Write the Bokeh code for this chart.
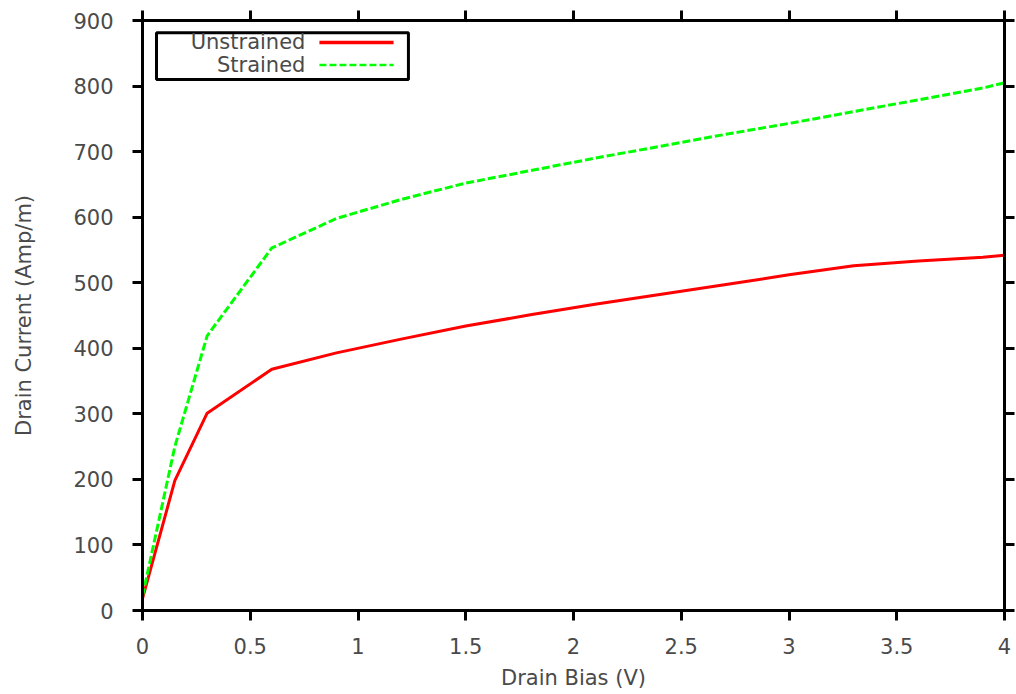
from bokeh.plotting import figure
from bokeh.models import (Range1d, LinearAxis, FixedTicker, BoxAnnotation, Label, Arrow,
                          CustomLabelingPolicy)
from bokeh.embed import file_html
from bokeh.resources import INLINE

# ---- data ----
drain_bias = [0.0, 0.15, 0.3, 0.6, 0.9, 1.2, 1.5, 1.8, 2.1, 2.4, 2.7, 3.0, 3.3, 3.6, 3.9, 4.0]
unstrained = [18, 198, 301, 368, 393, 414, 434, 451, 467, 482, 497, 512, 526, 533, 539, 542]
strained = [22, 250, 419, 553, 598, 627, 652, 671, 690, 708, 726, 743, 761, 779, 797, 805]

x_ticks = [0, 0.5, 1, 1.5, 2, 2.5, 3, 3.5, 4]
x_tick_labels = ["0", "0.5", "1", "1.5", "2", "2.5", "3", "3.5", "4"]
y_ticks = [0, 100, 200, 300, 400, 500, 600, 700, 800, 900]
y_tick_labels = ["0", "100", "200", "300", "400", "500", "600", "700", "800", "900"]

series_names = ["Unstrained", "Strained"]

FONT = "DejaVu Sans"
FSIZE = "21px"
TCOL = "#4a4a4a"

p = figure(frame_width=862, frame_height=590,
           min_border_left=142, min_border_top=20, min_border_right=12, min_border_bottom=84,
           x_range=Range1d(0, 4), y_range=Range1d(0, 900),
           output_backend="svg", toolbar_location=None, tools="")
p.xgrid.visible = False
p.ygrid.visible = False
p.outline_line_color = "black"
p.outline_line_width = 3
p.background_fill_color = "white"
p.border_fill_color = "white"

no_labels = CustomLabelingPolicy(code="""
const out = indices.clone();
for (let i = 0; i < indices.size; i++) { out.set(i, false); }
return out;
""")


def style_axis(ax, ticks, labels, show_labels=True):
    ax.ticker = FixedTicker(ticks=ticks)
    ax.major_label_overrides = dict(zip(ticks, labels))
    ax.axis_line_width = 3
    ax.axis_line_color = "black"
    ax.major_tick_line_width = 3
    ax.major_tick_line_color = "black"
    ax.major_tick_in = 0
    ax.major_tick_out = 10
    ax.minor_tick_line_color = None
    ax.major_label_text_font = FONT
    ax.major_label_text_color = TCOL
    ax.axis_label_text_font = FONT
    ax.axis_label_text_color = TCOL
    ax.axis_label_text_font_style = "normal"
    ax.axis_label_text_font_size = FSIZE
    if show_labels:
        ax.major_label_text_font_size = FSIZE
    else:
        ax.major_label_text_font_size = "1px"
        ax.major_label_standoff = 0
        ax.major_label_policy = no_labels


xa = p.xaxis[0]
style_axis(xa, x_ticks, x_tick_labels)
xa.axis_label = "Drain Bias (V)"
xa.major_label_standoff = 17
xa.axis_label_standoff = 9

ya = p.yaxis[0]
style_axis(ya, y_ticks, y_tick_labels)
ya.axis_label = "Drain Current (Amp/m)"
ya.major_label_standoff = 19
ya.axis_label_standoff = 34

top_axis = LinearAxis()
style_axis(top_axis, x_ticks, x_tick_labels, show_labels=False)
p.add_layout(top_axis, "above")
right_axis = LinearAxis()
style_axis(right_axis, y_ticks, y_tick_labels, show_labels=False)
p.add_layout(right_axis, "right")

# ---- data lines ----
p.line(drain_bias, unstrained, line_color="#ff0000", line_width=3)
p.line(drain_bias, strained, line_color="#00ff00", line_width=3, line_dash="8 3")

# ---- legend (gnuplot style: label right-aligned, sample on the right) ----
p.add_layout(BoxAnnotation(left=0.065, right=1.234, top=881.5, bottom=810,
                           fill_color=None, fill_alpha=0, line_color="black",
                           line_alpha=1.0, line_width=3))
rows_y = [866.5, 832]
colors = ["#ff0000", "#00ff00"]
dashes = ["solid", "7 3"]
widths = [3.5, 2.5]
for name, yy, c, d, w in zip(series_names, rows_y, colors, dashes, widths):
    p.add_layout(Label(x=0.756, y=yy, text=name, text_align="right", text_baseline="middle",
                       text_font=FONT, text_font_size=FSIZE, text_color=TCOL))
    p.add_layout(Arrow(end=None, x_start=0.821, y_start=yy, x_end=1.165, y_end=yy,
                       line_color=c, line_width=w, line_dash=d))

open("out.html", "w").write(file_html(p, INLINE))
